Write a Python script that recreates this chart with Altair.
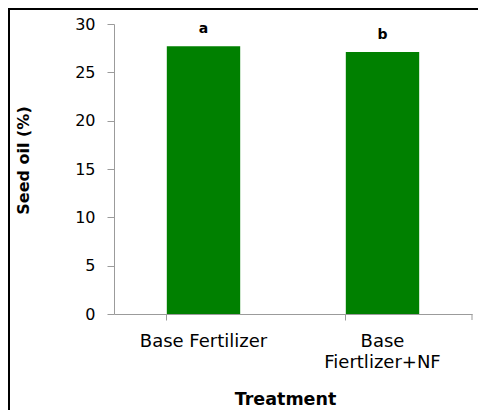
import altair as alt
import pandas as pd

treatments = ["Base Fertilizer", "Base Fiertlizer+NF"]
seed_oil = [27.7, 27.1]
letters = ["a", "b"]
y_ticks = [0, 5, 10, 15, 20, 25, 30]

df = pd.DataFrame({"Treatment": treatments, "oil": seed_oil, "letter": letters})

W, H = 358, 290
PAD = {"left": 106, "top": 16, "right": 6, "bottom": 96}

x_enc = alt.X(
    "Treatment:N",
    sort=treatments,
    scale=alt.Scale(paddingInner=0.59, paddingOuter=0.295),
    axis=alt.Axis(
        title="Treatment",
        titleFont="DejaVu Sans",
        titleFontSize=17.5,
        titleFontWeight="bold",
        titleColor="black",
        titleX=171,
        titleY=90,
        titleBaseline="alphabetic",
        titleAlign="center",
        labelFont="DejaVu Sans",
        labelFontSize=18,
        labelColor="black",
        labelAngle=0,
        labelBaseline="alphabetic",
        labelPadding=26,
        labelLineHeight=21,
        labelExpr="datum.value == 'Base Fiertlizer+NF' ? ['Base', 'Fiertlizer+NF'] : datum.value",
        bandPosition=0,
        tickSize=6,
        tickColor="#9b9b9b",
        domainColor="#9b9b9b",
        grid=False,
    ),
)

y_enc = alt.Y(
    "oil:Q",
    scale=alt.Scale(domain=[0, 30], nice=False, zero=True),
    axis=alt.Axis(
        values=y_ticks,
        title="Seed oil (%)",
        titleFont="DejaVu Sans",
        titleFontSize=16,
        titleFontWeight="bold",
        titleColor="black",
        titleAngle=270,
        titleX=-91,
        titleY=136,
        titleAlign="center",
        titleBaseline="middle",
        labelFont="DejaVu Sans",
        labelFontSize=16,
        labelColor="black",
        labelPadding=12,
        tickSize=7,
        tickColor="#9b9b9b",
        domainColor="#9b9b9b",
        grid=False,
    ),
)

bars = alt.Chart(df).mark_bar(color="#008000").encode(x=x_enc, y=y_enc)

text = alt.Chart(df).mark_text(
    font="DejaVu Sans", fontSize=14, fontWeight="bold", color="black",
    baseline="alphabetic", dy=-13,
).encode(x=alt.X("Treatment:N", sort=treatments), y="oil:Q", text="letter:N")

deco = alt.Data(values=[{"k": 1}])
end_tick = alt.Chart(deco).mark_rule(color="#9b9b9b", strokeWidth=1).encode(
    x=alt.value(W), y=alt.value(H), y2=alt.value(H + 6)
)
border_left = alt.Chart(deco).mark_rule(color="black", strokeWidth=2).encode(
    x=alt.value(-105), y=alt.value(-16), y2=alt.value(H + 110)
)
border_top = alt.Chart(deco).mark_rule(color="black", strokeWidth=2).encode(
    x=alt.value(-106), x2=alt.value(W + 20), y=alt.value(-15)
)

chart = alt.layer(bars, text, end_tick, border_left, border_top).properties(
    width=W, height=H,
    autosize=alt.AutoSizeParams(type="none"),
    padding=PAD,
).configure_view(stroke=None)

chart.save("out.html", embed_options={"renderer": "svg", "actions": False})
